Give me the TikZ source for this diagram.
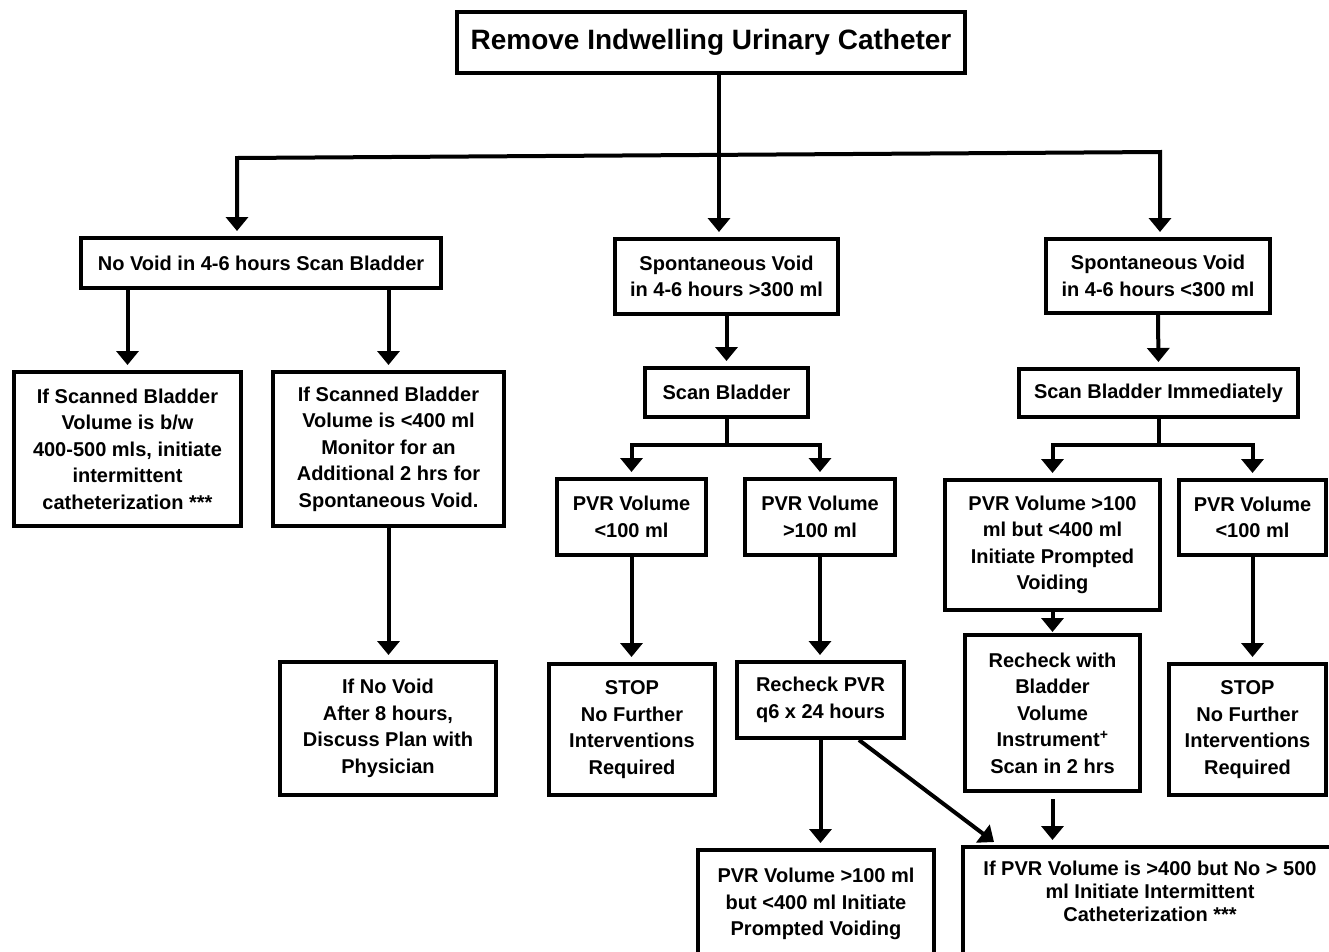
\documentclass[tikz,border=0pt]{standalone}
\usepackage{fontspec}
\setmainfont{Liberation Sans}
\usetikzlibrary{arrows.meta,calc}
\begin{document}
\begin{tikzpicture}[x=1pt,y=-1pt,
  box/.style={draw, line width=4pt, rectangle, align=center, inner sep=2pt,
    font=\fontsize{20pt}{26.5pt}\selectfont\bfseries},
  sz/.style 2 args={minimum width=#1pt, minimum height=#2pt},
  line/.style={line width=4pt, line join=miter},
  tip/.tip={Triangle[width=22pt,length=14pt]},
  arr/.style={line width=4pt, -tip, shorten >=5pt},
  arrboth/.style={line width=4pt, tip-tip, shorten >=5pt, shorten <=5pt, line join=miter}]
\fill[white] (0,0) rectangle (1329,951);
\useasboundingbox (0,0) rectangle (1329,951);
\clip (0,0) rectangle (1329,951);

% top
\node[box,sz={508}{61},font=\fontsize{28pt}{32pt}\selectfont\bfseries] (T) at (711,42.5) {Remove Indwelling Urinary Catheter};

% level 1
\node[box,sz={360}{50}] (A) at (261,263) {No Void in 4-6 hours Scan Bladder};
\node[box,sz={223}{75}] (B) at (726.5,276.5) {Spontaneous Void\\in 4-6 hours >300 ml};
\node[box,sz={224}{74}] (C) at (1158,276) {Spontaneous Void\\in 4-6 hours <300 ml};

% left branch
\node[box,sz={227}{154}] (D) at (127.5,449) {If Scanned Bladder\\Volume is b/w\\400-500 mls, initiate\\intermittent\\catheterization ***};
\node[box,sz={231}{154}] (E) at (388.5,449) {If Scanned Bladder\\Volume is <400 ml\\Monitor for an\\Additional 2 hrs for\\Spontaneous Void.};
\node[box,sz={216}{133}] (F) at (388,728.5) {If No Void\\After 8 hours,\\Discuss Plan with\\Physician};

% middle branch
\node[box,sz={163}{49}] (G) at (726.5,392.5) {Scan Bladder};
\node[box,sz={149}{76}] (H) at (631.5,517) {PVR Volume\\<100 ml};
\node[box,sz={150}{76}] (I) at (820,517) {PVR Volume\\>100 ml};
\node[box,sz={166}{131}] (J) at (632,729.5) {STOP\\No Further\\Interventions\\Required};
\node[box,sz={167}{76}] (K) at (820.5,700) {Recheck PVR\\q6 x 24 hours};
\node[box,sz={236}{108}] (L) at (816,904) {PVR Volume >100 ml\\but <400 ml Initiate\\Prompted Voiding};

% right branch
\node[box,sz={279}{48}] (M) at (1158.5,393) {Scan Bladder Immediately};
\node[box,sz={215}{130}] (N) at (1052.5,545) {PVR Volume >100\\ml but <400 ml\\Initiate Prompted\\Voiding};
\node[box,sz={147}{75}] (O) at (1252.5,517.5) {PVR Volume\\<100 ml};
\node[box,sz={175}{156}] (P) at (1052.5,713) {Recheck with\\Bladder\\Volume\\Instrument\textsuperscript{+}\\Scan in 2 hrs};
\node[box,sz={157}{131}] (Q) at (1247.5,729.5) {STOP\\No Further\\Interventions\\Required};
\node[box,font=\fontsize{20pt}{23pt}\selectfont\bfseries,minimum width=374pt,anchor=north,inner ysep=14pt,text depth=80pt] (R) at (1150,845) {If PVR Volume is >400 but No > 500\\ml Initiate Intermittent\\Catheterization ***};

% top connectors
\coordinate (hl) at (237,158);
\coordinate (hr) at (1160,152);
\coordinate (mid) at (719,155);
\draw[arrboth] (A.north -| hl) -- (hl) -- (hr) -- (C.north -| hr);
\draw[arr] (T.south -| mid) -- (B.north -| mid);

% left connectors
\draw[arr] (A.south -| D.north) -- (D.north);
\draw[arr] (A.south -| E.north) -- (E.north);
\draw[arr] (E.south) -- (E.south |- F.north);

% middle connectors
\coordinate (g) at (726.5,445);
\draw[arr] (B.south) -- (G.north);
\draw[line] (G.south) -- (g);
\draw[arr] (g) -| (H.north);
\draw[arr] (g) -| (I.north);
\draw[arr] (H.south) -- (H.south |- J.north);
\draw[arr] (I.south) -- (I.south |- K.north);
\draw[arr] (K.south) -- (K.south |- L.north);
\draw[arr] ($(K.south)!0.45!(K.south east)$) -- ([xshift=37pt]R.north west);

% right connectors
\coordinate (m) at (1158.5,445);
\draw[arr] (C.south) -- (M.north);
\draw[line] (M.south) -- (m);
\draw[arr] (m) -| (N.north);
\draw[arr] (m) -| (O.north);
\draw[arr, shorten >=1pt] (N.south) -- (P.north);
\draw[arr] (O.south) -- (O.south |- Q.north);
\draw[arr, shorten <=6pt] (P.south) -- (P.south |- R.north);
\end{tikzpicture}
\end{document}
